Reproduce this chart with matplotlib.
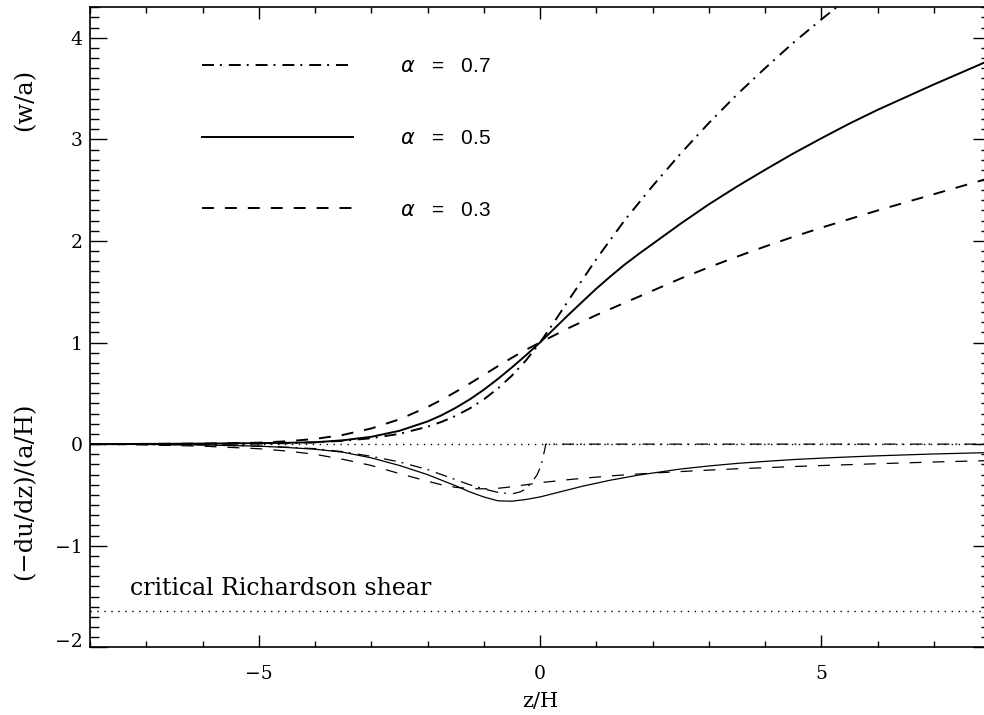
import matplotlib
matplotlib.use("Agg")
import matplotlib.pyplot as plt
import matplotlib.transforms as mtrans
from matplotlib.ticker import MultipleLocator

plt.rcParams["lines.scale_dashes"] = False
plt.rcParams["font.family"] = ["DejaVu Serif"]

# ---- data ----
Z = [-8, -7, -6, -5, -4.5, -4, -3.5, -3, -2.5, -2, -1.75, -1.5, -1.25, -1, -0.75, -0.5,
     -0.25, 0, 0.25, 0.5, 0.75, 1, 1.25, 1.5, 1.75, 2, 2.5, 3, 3.5, 4, 4.5, 5, 5.5, 6, 7, 8]

# upper curves, w/a
W_03 = [0.0, 0.002, 0.005, 0.014, 0.028, 0.051, 0.091, 0.154, 0.244, 0.365, 0.436, 0.514,
        0.596, 0.681, 0.767, 0.85, 0.929, 1.0, 1.07, 1.14, 1.205, 1.27, 1.33, 1.39, 1.45,
        1.51, 1.63, 1.74, 1.845, 1.945, 2.04, 2.13, 2.215, 2.3, 2.46, 2.62]
W_05 = [0.0, 0.002, 0.005, 0.01, 0.013, 0.018, 0.038, 0.072, 0.131, 0.223, 0.284, 0.357,
        0.44, 0.535, 0.641, 0.755, 0.875, 1.0, 1.135, 1.27, 1.40, 1.53, 1.65, 1.765, 1.87,
        1.97, 2.17, 2.36, 2.535, 2.70, 2.86, 3.01, 3.155, 3.29, 3.54, 3.78]
W_07 = [0.0, 0.001, 0.002, 0.005, 0.009, 0.018, 0.033, 0.058, 0.101, 0.171, 0.219, 0.278,
        0.351, 0.44, 0.547, 0.674, 0.824, 1.0, 1.2, 1.41, 1.615, 1.82, 2.01, 2.2, 2.37,
        2.54, 2.86, 3.16, 3.44, 3.70, 3.95, 4.18, 4.40, 4.62, 5.0, 5.4]

# lower curves, (-du/dz)/(a/H)
S_03 = [0.0, -0.008, -0.02, -0.045, -0.068, -0.10, -0.15, -0.21, -0.29, -0.365, -0.40,
        -0.425, -0.438, -0.44, -0.435, -0.42, -0.40, -0.38, -0.365, -0.35, -0.337, -0.325,
        -0.313, -0.303, -0.294, -0.285, -0.27, -0.256, -0.243, -0.232, -0.221, -0.211,
        -0.202, -0.193, -0.176, -0.162]
S_05 = [0.0, -0.003, -0.008, -0.02, -0.033, -0.05, -0.08, -0.135, -0.21, -0.30, -0.355,
        -0.41, -0.47, -0.52, -0.558, -0.562, -0.545, -0.52, -0.485, -0.45, -0.415, -0.385,
        -0.355, -0.33, -0.305, -0.285, -0.245, -0.215, -0.19, -0.17, -0.152, -0.138,
        -0.126, -0.115, -0.097, -0.083]
Z_07 = [-8, -7, -6, -5, -4.5, -4, -3.5, -3, -2.5, -2, -1.75, -1.5, -1.25, -1, -0.75, -0.5,
        -0.35, -0.25, -0.15, -0.05, 0.02, 0.06, 0.09, 0.1, 8]
S_07 = [0.0, -0.003, -0.008, -0.02, -0.03, -0.045, -0.075, -0.12, -0.175, -0.25, -0.30,
        -0.35, -0.40, -0.44, -0.475, -0.49, -0.47, -0.44, -0.38, -0.30, -0.21, -0.11, -0.04,
        0.0, 0.0]

RI_CRIT = -1.64
LABELS = [r"$\alpha$   =   0.7", r"$\alpha$   =   0.5", r"$\alpha$   =   0.3"]
YTICKS = [-2, -1, 0, 1, 2, 3, 4]
XTICKS = [-5, 0, 5]

DASH = (8.6, 7.9)
DASHDOT = (8.6, 4.3, 1.4, 5.0)
DOT = (1.0, 4.0)

fig = plt.figure(figsize=(9.84, 7.15), dpi=100)
ax = fig.add_axes([90 / 984, 67.7 / 715, 900 / 984, 640 / 715])

h07, = ax.plot(Z, W_07, color="k", lw=1.4, dashes=DASHDOT)
h05, = ax.plot(Z, W_05, color="k", lw=1.4)
h03, = ax.plot(Z, W_03, color="k", lw=1.4, dashes=DASH)

ax.axhline(0, color="k", lw=1.0, dashes=DOT)
ax.axhline(RI_CRIT, color="k", lw=1.0, dashes=DOT)
ax.plot(Z_07, S_07, color="k", lw=0.9, dashes=DASHDOT)
ax.plot(Z, S_05, color="k", lw=0.9)
ax.plot(Z, S_03, color="k", lw=0.9, dashes=DASH)

ax.text(-7.28, -1.42, "critical Richardson shear", fontsize=17, ha="left", va="center")

ax.legend([h07, h05, h03], LABELS, loc="upper left", bbox_to_anchor=(0.1244, 0.922),
          frameon=False, borderpad=0, borderaxespad=0, handlelength=7.25,
          handletextpad=2.26, labelspacing=2.53,
          prop={"family": "Liberation Sans", "size": 15})

ax.set_xlim(-8, 8)
ax.set_ylim(-2, 4.3)
ax.set_xticks(XTICKS, [f"{t}".replace("-", "\u2212") for t in XTICKS])
ax.set_yticks(YTICKS, [f"{t}".replace("-", "\u2212") for t in YTICKS])
ax.xaxis.set_minor_locator(MultipleLocator(1))
ax.yaxis.set_minor_locator(MultipleLocator(0.1))
ax.tick_params(axis="both", which="both", direction="in", top=True, right=True,
               width=1.0, labelsize=13.5)
ax.tick_params(axis="x", which="major", length=8.6, pad=13)
ax.tick_params(axis="x", which="minor", length=4.3)
ax.tick_params(axis="y", which="major", length=12.2, pad=5.5)
ax.tick_params(axis="y", which="minor", length=6.5)
for sp in ax.spines.values():
    sp.set_linewidth(1.2)
ax.get_yticklabels()[0].set_va("baseline")

ax.set_xlabel("z/H", fontsize=15, labelpad=6)
tr = mtrans.blended_transform_factory(fig.transFigure, ax.transData)
ax.text(25 / 984, 3.39, "(w/a)", transform=tr, rotation=90, fontsize=17.5,
        ha="center", va="center")
ax.text(25 / 984, -0.46, "(\u2212du/dz)/(a/H)", transform=tr, rotation=90, fontsize=17.5,
        ha="center", va="center")

fig.savefig("out.png", dpi=100)
